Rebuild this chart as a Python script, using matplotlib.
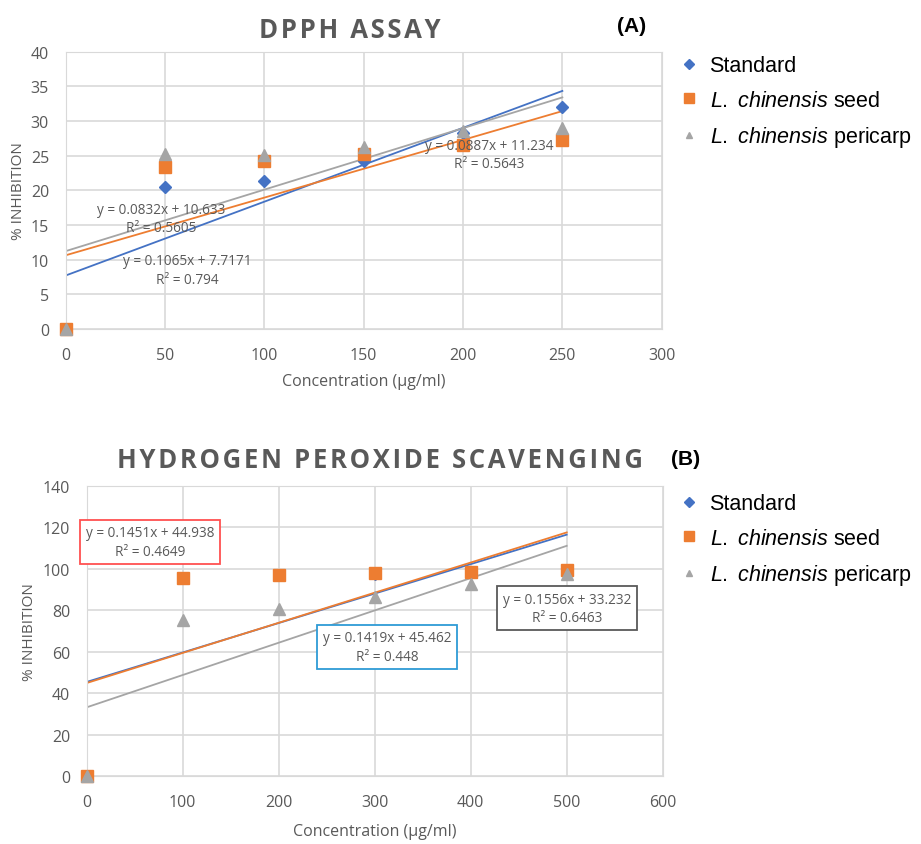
import numpy as np
import matplotlib
matplotlib.use("Agg")
import matplotlib.pyplot as plt
from matplotlib.lines import Line2D

plt.rcParams['font.family'] = ['Open Sans', 'DejaVu Sans']
plt.rcParams['mathtext.fontset'] = 'custom'
plt.rcParams['mathtext.rm'] = 'Liberation Sans'
plt.rcParams['mathtext.it'] = 'Liberation Sans:italic'

# (A) DPPH assay
dpph_conc = [0, 50, 100, 150, 200, 250]
dpph_standard = [0, 20.5, 21.4, 24.2, 28.3, 32.0]
dpph_seed = [0, 23.4, 24.3, 25.2, 26.5, 27.2]
dpph_pericarp = [0, 25.2, 25.1, 26.2, 28.5, 29.0]
dpph_fits = {"standard": (0.1065, 7.7171), "seed": (0.0832, 10.633), "pericarp": (0.0887, 11.234)}

# (B) hydrogen peroxide scavenging
h2o2_conc = [0, 100, 200, 300, 400, 500]
h2o2_standard = [0, 95.5, 96.8, 97.5, 98.3, 97.5]
h2o2_seed = [0, 95.5, 97.0, 97.8, 98.5, 99.5]
h2o2_pericarp = [0, 75.5, 80.5, 86.3, 92.5, 97.5]
h2o2_fits = {"standard": (0.1419, 45.462), "seed": (0.1451, 44.938), "pericarp": (0.1556, 33.232)}

BLUE = "#4472C4"
ORANGE = "#ED7D31"
GRAY = "#A5A5A5"
TXT = "#595959"
W, H = 921, 845

fig = plt.figure(figsize=(W / 100, H / 100), dpi=100)


def fx(px):
    return px / W


def fy(py):
    return 1 - py / H


def spaced(s):
    # mimic the wide letter spacing of the Excel chart titles
    return "\u200a".join(s)


def style_axes(ax, xmax, xstep, ymax, ystep):
    ax.set_xlim(0, xmax)
    ax.set_ylim(0, ymax)
    ax.set_xticks(np.arange(0, xmax + 1, xstep))
    ax.set_yticks(np.arange(0, ymax + 1, ystep))
    ax.grid(True, color="#d9d9d9", lw=1.2)
    ax.set_axisbelow(True)
    for s in ax.spines.values():
        s.set_color("#d9d9d9")
    ax.tick_params(length=0, colors=TXT, labelsize=11.5)
    ax.tick_params(axis="x", pad=13)
    ax.tick_params(axis="y", pad=12)


def draw_series(ax, conc, std, seed, peri, fits):
    xs = np.array([0, conc[-1]])
    ax.plot(conc, std, ls="none", marker="D", ms=6.5, color=BLUE, zorder=3, clip_on=False)
    ax.plot(conc, seed, ls="none", marker="s", ms=8, color=ORANGE, zorder=4, clip_on=False)
    ax.plot(conc, peri, ls="none", marker="^", ms=8, color=GRAY, zorder=5, clip_on=False)
    for key, c in [("standard", BLUE), ("seed", ORANGE), ("pericarp", GRAY)]:
        m, b = fits[key]
        ax.plot(xs, m * xs + b, color=c, lw=1.3, zorder=2)


def legend(y0):
    handles = [
        Line2D([], [], ls="none", marker="D", ms=5, color=BLUE),
        Line2D([], [], ls="none", marker="s", ms=7, color=ORANGE),
        Line2D([], [], ls="none", marker="^", ms=5, color=GRAY),
    ]
    labels = ["Standard", r"$\it{L.\ chinensis}$ seed", r"$\it{L.\ chinensis}$ pericarp"]
    fig.legend(handles, labels, loc="upper left", bbox_to_anchor=(fx(660), fy(y0)),
               bbox_transform=fig.transFigure, frameon=False, handlelength=0.9,
               handletextpad=0.5, labelspacing=0.62,
               prop={"family": "Liberation Sans", "size": 15.5})


eq_kw = dict(ha="center", va="center", fontsize=9.8, color=TXT, zorder=6, linespacing=1.3)

# ---- panel A ----
ax1 = fig.add_axes([fx(65.7), fy(330), (661.7 - 65.7) / W, (330 - 52.7) / H])
style_axes(ax1, 300, 50, 40, 5)
draw_series(ax1, dpph_conc, dpph_standard, dpph_seed, dpph_pericarp, dpph_fits)
ax1.set_ylabel("% INHIBITION", color=TXT, fontsize=11)
ax1.yaxis.set_label_coords(-0.066, 0.5)
ax1.set_xlabel("Concentration (µg/ml)", color=TXT, fontsize=11.5, labelpad=7)
fig.text(fx(350), fy(30), spaced("DPPH ASSAY"), ha="center", va="center", fontsize=18.5,
         fontweight="bold", color=TXT)
fig.text(fx(632), fy(27), "(A)", ha="center", va="center", fontsize=15,
         fontweight="bold", color="black", family="Liberation Sans")
ax1.text(48, 15.9, "y = 0.0832x + 10.633\nR² = 0.5605", **eq_kw)
ax1.text(61, 8.5, "y = 0.1065x + 7.7171\nR² = 0.794", **eq_kw)
ax1.text(213, 25.2, "y = 0.0887x + 11.234\nR² = 0.5643", **eq_kw)
legend(37)

# ---- panel B ----
ax2 = fig.add_axes([fx(86.7), fy(777.3), (662.7 - 86.7) / W, (777.3 - 486.7) / H])
style_axes(ax2, 600, 100, 140, 20)
draw_series(ax2, h2o2_conc, h2o2_standard, h2o2_seed, h2o2_pericarp, h2o2_fits)
ax2.set_ylabel("% INHIBITION", color=TXT, fontsize=11)
ax2.yaxis.set_label_coords(-0.086, 0.5)
ax2.set_xlabel("Concentration (µg/ml)", color=TXT, fontsize=11.5, labelpad=9)
fig.text(fx(380), fy(461), spaced("HYDROGEN PEROXIDE SCAVENGING"), ha="center", va="center",
         fontsize=18.5, fontweight="bold", color=TXT)
fig.text(fx(686), fy(460), "(B)", ha="center", va="center", fontsize=15,
         fontweight="bold", color="black", family="Liberation Sans")
box = lambda c: dict(boxstyle="square,pad=0.4", fc="white", ec=c, lw=1.3)
ax2.text(66, 112.9, "y = 0.1451x + 44.938\nR² = 0.4649", bbox=box("#FF5050"), **eq_kw)
ax2.text(312.8, 62.3, "y = 0.1419x + 45.462\nR² = 0.448", bbox=box("#2E9BD6"), **eq_kw)
ax2.text(500.3, 81, "y = 0.1556x + 33.232\nR² = 0.6463", bbox=box("#595959"), **eq_kw)
legend(475)

fig.savefig("out.png", dpi=100)
